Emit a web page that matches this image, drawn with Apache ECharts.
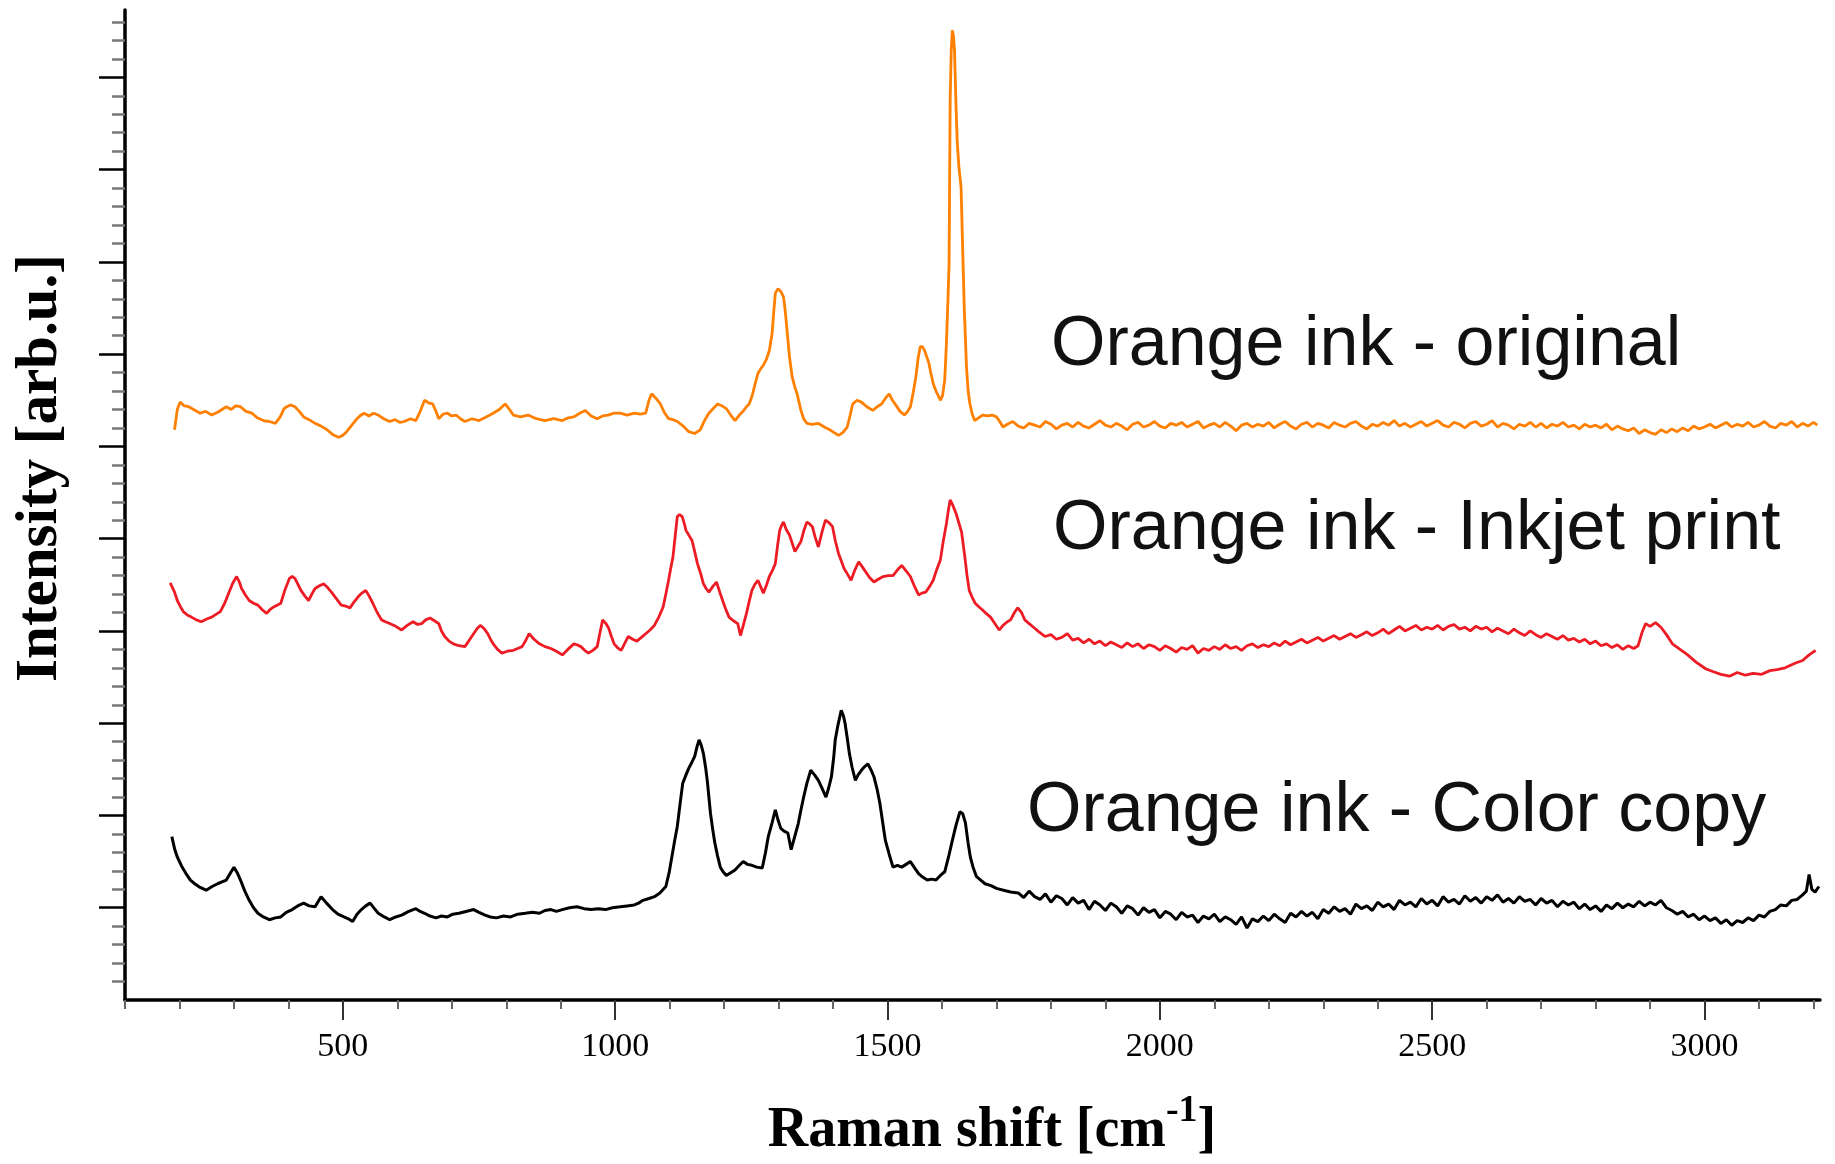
<!DOCTYPE html>
<html>
<head>
<meta charset="utf-8">
<script src="https://cdn.jsdelivr.net/npm/echarts@6/dist/echarts.min.js"></script>
<style>
  html, body { margin: 0; padding: 0; background: #ffffff; }
  #chart { width: 1835px; height: 1164px; }
</style>
</head>
<body>
<div id="chart"></div>
<script>
// Raman spectra of orange ink, stacked with vertical offsets.
// Each point: [Raman shift (cm^-1), intensity (arb.u.)]
const originalSpectrum = [
  [191,6.18],[196,6.40],[201,6.48],[209,6.44],[217,6.43],[226,6.40],[238,6.36],[248,6.38],[259,6.34],[270,6.37],
  [278,6.40],[286,6.43],[295,6.40],[303,6.44],[312,6.43],[322,6.38],[333,6.36],[343,6.31],[354,6.28],[365,6.27],
  [376,6.25],[385,6.32],[392,6.41],[397,6.43],[404,6.45],[412,6.43],[420,6.38],[428,6.32],[438,6.29],[449,6.25],
  [460,6.22],[471,6.18],[481,6.13],[492,6.10],[500,6.12],[507,6.16],[515,6.22],[523,6.28],[531,6.33],[539,6.36],
  [548,6.33],[556,6.36],[565,6.34],[575,6.30],[586,6.27],[596,6.29],[605,6.26],[613,6.27],[624,6.30],[634,6.28],
  [642,6.38],[650,6.50],[658,6.47],[665,6.46],[671,6.38],[676,6.30],[684,6.35],[692,6.36],[700,6.33],[708,6.34],
  [716,6.30],[724,6.27],[737,6.30],[750,6.28],[763,6.32],[776,6.36],[787,6.40],[798,6.46],[806,6.40],[813,6.34],
  [826,6.32],[840,6.34],[855,6.30],[871,6.28],[887,6.30],[903,6.28],[914,6.31],[924,6.32],[935,6.36],[945,6.39],
  [956,6.33],[967,6.30],[977,6.33],[987,6.34],[998,6.36],[1009,6.36],[1022,6.34],[1035,6.36],[1046,6.35],[1056,6.36],
  [1062,6.50],[1067,6.57],[1075,6.52],[1083,6.46],[1090,6.37],[1098,6.30],[1106,6.29],[1114,6.27],[1125,6.22],[1135,6.16],
  [1146,6.14],[1156,6.18],[1164,6.28],[1172,6.36],[1180,6.41],[1188,6.46],[1196,6.44],[1204,6.41],[1212,6.34],[1220,6.28],
  [1228,6.34],[1236,6.39],[1241,6.43],[1246,6.46],[1252,6.56],[1257,6.68],[1262,6.79],[1267,6.84],[1272,6.88],[1278,6.95],
  [1283,7.04],[1288,7.22],[1291,7.45],[1294,7.66],[1299,7.71],[1304,7.68],[1309,7.62],[1312,7.48],[1315,7.29],[1320,6.97],
  [1325,6.75],[1330,6.64],[1334,6.57],[1341,6.39],[1346,6.30],[1352,6.25],[1362,6.24],[1373,6.25],[1384,6.21],[1394,6.18],
  [1402,6.15],[1410,6.12],[1418,6.15],[1426,6.21],[1431,6.33],[1436,6.46],[1444,6.50],[1452,6.48],[1462,6.43],[1473,6.39],
  [1481,6.43],[1489,6.46],[1496,6.52],[1503,6.57],[1509,6.50],[1515,6.45],[1523,6.38],[1531,6.34],[1537,6.38],[1542,6.43],
  [1547,6.58],[1552,6.75],[1556,6.95],[1560,7.08],[1564,7.08],[1568,7.04],[1572,6.97],[1576,6.90],[1580,6.78],[1584,6.68],
  [1589,6.60],[1594,6.54],[1597,6.50],[1601,6.55],[1605,6.72],[1608,7.10],[1611,7.60],[1613,7.98],[1615,9.75],[1617,10.30],
  [1619,10.51],[1621,10.45],[1623,10.29],[1626,9.64],[1628,9.30],[1631,9.03],[1635,8.81],[1638,8.13],[1641,7.48],[1645,6.86],
  [1648,6.60],[1651,6.47],[1655,6.36],[1660,6.28],[1667,6.31],[1675,6.34],[1683,6.33],[1692,6.34],[1700,6.32],[1706,6.27],
  [1712,6.21],[1720,6.24],[1730,6.27],[1740,6.22],[1750,6.20],[1760,6.25],[1770,6.23],[1780,6.21],[1790,6.27],[1800,6.24],
  [1810,6.19],[1820,6.23],[1830,6.25],[1840,6.21],[1850,6.26],[1860,6.22],[1870,6.20],[1880,6.24],[1890,6.28],[1900,6.23],
  [1910,6.21],[1920,6.25],[1930,6.22],[1940,6.18],[1950,6.24],[1960,6.26],[1970,6.21],[1980,6.23],[1990,6.27],[2000,6.22],
  [2010,6.20],[2020,6.25],[2030,6.23],[2040,6.26],[2050,6.21],[2060,6.24],[2070,6.27],[2080,6.20],[2090,6.23],[2100,6.25],
  [2110,6.21],[2120,6.26],[2130,6.22],[2140,6.17],[2150,6.23],[2160,6.25],[2170,6.21],[2180,6.24],[2190,6.22],[2200,6.26],
  [2210,6.20],[2220,6.24],[2230,6.27],[2240,6.22],[2250,6.19],[2260,6.24],[2270,6.26],[2280,6.21],[2290,6.25],[2300,6.23],
  [2310,6.20],[2320,6.26],[2330,6.23],[2340,6.21],[2350,6.25],[2360,6.27],[2370,6.22],[2380,6.19],[2390,6.24],[2400,6.22],
  [2410,6.26],[2420,6.23],[2430,6.28],[2440,6.22],[2450,6.25],[2460,6.21],[2470,6.24],[2480,6.27],[2490,6.22],[2500,6.25],
  [2510,6.28],[2520,6.23],[2530,6.21],[2540,6.26],[2550,6.24],[2560,6.20],[2570,6.25],[2580,6.27],[2590,6.22],[2600,6.24],
  [2610,6.28],[2620,6.21],[2630,6.25],[2640,6.23],[2650,6.19],[2660,6.24],[2670,6.22],[2680,6.26],[2690,6.21],[2700,6.25],
  [2710,6.20],[2720,6.24],[2730,6.22],[2740,6.26],[2750,6.21],[2760,6.23],[2770,6.19],[2780,6.24],[2790,6.21],[2800,6.23],
  [2810,6.20],[2820,6.24],[2830,6.18],[2840,6.22],[2850,6.19],[2860,6.17],[2870,6.20],[2880,6.14],[2890,6.18],[2900,6.15],
  [2910,6.13],[2920,6.18],[2930,6.15],[2940,6.19],[2950,6.16],[2960,6.20],[2970,6.17],[2980,6.22],[2990,6.19],[3000,6.21],
  [3010,6.24],[3020,6.20],[3030,6.23],[3040,6.26],[3050,6.21],[3060,6.24],[3070,6.22],[3080,6.26],[3090,6.21],[3100,6.23],
  [3110,6.27],[3120,6.22],[3130,6.20],[3140,6.25],[3150,6.23],[3160,6.27],[3170,6.21],[3180,6.25],[3190,6.22],[3200,6.26],
  [3207,6.23]
];

const inkjetSpectrum = [
  [183,4.52],[191,4.42],[196,4.33],[202,4.26],[207,4.21],[215,4.17],[222,4.15],[231,4.12],[240,4.10],[250,4.13],
  [259,4.15],[267,4.18],[275,4.21],[283,4.30],[291,4.42],[298,4.52],[305,4.59],[310,4.53],[314,4.46],[321,4.39],
  [328,4.33],[336,4.30],[344,4.28],[352,4.23],[360,4.19],[366,4.23],[373,4.26],[380,4.28],[386,4.30],[394,4.45],
  [402,4.57],[407,4.59],[412,4.57],[418,4.50],[423,4.44],[430,4.38],[437,4.33],[443,4.40],[449,4.46],[457,4.49],
  [465,4.51],[472,4.47],[479,4.42],[488,4.35],[497,4.28],[505,4.27],[513,4.25],[520,4.31],[528,4.37],[535,4.41],
  [542,4.44],[548,4.38],[555,4.30],[563,4.20],[571,4.12],[578,4.10],[586,4.08],[597,4.05],[608,4.01],[618,4.06],
  [629,4.10],[637,4.07],[645,4.08],[652,4.12],[660,4.14],[668,4.11],[676,4.08],[681,4.00],[687,3.94],[695,3.89],
  [703,3.86],[713,3.84],[724,3.83],[732,3.90],[740,3.97],[747,4.03],[753,4.06],[760,4.02],[766,3.97],[771,3.91],
  [776,3.86],[784,3.80],[792,3.76],[802,3.78],[813,3.79],[821,3.81],[829,3.83],[836,3.90],[842,3.97],[851,3.91],
  [861,3.86],[871,3.83],[882,3.81],[892,3.78],[903,3.74],[913,3.80],[924,3.86],[930,3.85],[937,3.83],[944,3.79],
  [951,3.76],[959,3.79],[967,3.83],[972,3.98],[977,4.12],[983,4.08],[988,4.03],[993,3.94],[998,3.86],[1004,3.82],
  [1011,3.79],[1017,3.86],[1024,3.94],[1032,3.91],[1040,3.89],[1048,3.93],[1056,3.97],[1064,4.01],[1072,4.06],[1080,4.15],
  [1088,4.26],[1093,4.40],[1098,4.55],[1102,4.68],[1106,4.80],[1110,5.02],[1114,5.24],[1118,5.26],[1123,5.24],[1127,5.16],
  [1130,5.09],[1136,5.03],[1141,4.98],[1146,4.86],[1151,4.73],[1157,4.62],[1162,4.51],[1167,4.46],[1172,4.42],[1179,4.48],
  [1186,4.53],[1192,4.42],[1199,4.30],[1204,4.22],[1209,4.15],[1217,4.11],[1225,4.08],[1230,3.95],[1236,4.08],[1241,4.19],
  [1246,4.32],[1251,4.44],[1256,4.50],[1262,4.55],[1267,4.48],[1272,4.41],[1278,4.50],[1283,4.59],[1289,4.66],[1294,4.73],
  [1298,4.92],[1302,5.09],[1306,5.15],[1309,5.18],[1314,5.10],[1320,5.04],[1325,4.95],[1330,4.86],[1336,4.92],[1341,4.97],
  [1347,5.10],[1352,5.18],[1357,5.16],[1362,5.13],[1367,5.02],[1373,4.91],[1380,5.08],[1386,5.20],[1393,5.17],[1399,5.13],
  [1404,4.98],[1410,4.84],[1415,4.76],[1420,4.68],[1427,4.61],[1433,4.55],[1440,4.66],[1447,4.75],[1453,4.70],[1460,4.64],
  [1467,4.58],[1475,4.53],[1483,4.56],[1492,4.59],[1501,4.60],[1510,4.60],[1518,4.66],[1526,4.71],[1534,4.65],[1542,4.59],
  [1549,4.49],[1557,4.39],[1563,4.41],[1570,4.42],[1577,4.48],[1584,4.55],[1590,4.66],[1597,4.77],[1602,4.96],[1608,5.16],
  [1612,5.32],[1615,5.42],[1620,5.36],[1626,5.27],[1631,5.17],[1636,5.07],[1642,4.80],[1646,4.60],[1650,4.44],[1655,4.37],
  [1661,4.30],[1668,4.26],[1674,4.23],[1681,4.19],[1689,4.15],[1697,4.08],[1705,4.01],[1712,4.06],[1720,4.10],[1726,4.12],
  [1733,4.20],[1739,4.25],[1746,4.20],[1752,4.12],[1760,4.08],[1768,4.04],[1778,3.99],[1789,3.94],[1800,3.96],[1810,3.91],
  [1820,3.93],[1830,3.97],[1840,3.90],[1850,3.92],[1860,3.87],[1870,3.91],[1880,3.86],[1890,3.89],[1900,3.84],[1910,3.88],
  [1920,3.85],[1930,3.82],[1940,3.87],[1950,3.83],[1960,3.86],[1970,3.81],[1980,3.85],[1990,3.83],[2000,3.79],[2010,3.84],
  [2020,3.81],[2030,3.77],[2040,3.82],[2050,3.80],[2060,3.84],[2070,3.76],[2080,3.81],[2090,3.79],[2100,3.83],[2110,3.80],
  [2120,3.85],[2130,3.81],[2140,3.83],[2150,3.79],[2160,3.84],[2170,3.86],[2180,3.82],[2190,3.85],[2200,3.83],[2210,3.87],
  [2220,3.84],[2230,3.89],[2240,3.85],[2250,3.88],[2260,3.91],[2270,3.87],[2280,3.90],[2290,3.93],[2300,3.89],[2310,3.92],
  [2320,3.95],[2330,3.91],[2340,3.94],[2350,3.97],[2360,3.93],[2370,3.96],[2380,3.99],[2390,3.95],[2400,3.98],[2410,4.02],
  [2420,3.97],[2430,4.01],[2440,4.05],[2450,4.00],[2460,4.03],[2470,4.06],[2480,4.01],[2490,4.04],[2500,4.02],[2510,4.06],
  [2520,4.01],[2530,4.05],[2540,4.07],[2550,4.02],[2560,4.04],[2570,4.00],[2580,4.05],[2590,4.02],[2600,4.04],[2610,3.99],
  [2620,4.03],[2630,4.00],[2640,3.97],[2650,4.02],[2660,3.98],[2670,3.95],[2680,4.00],[2690,3.96],[2700,3.93],[2710,3.97],
  [2720,3.94],[2730,3.91],[2740,3.95],[2750,3.90],[2760,3.92],[2770,3.88],[2780,3.91],[2790,3.86],[2800,3.89],[2810,3.84],
  [2820,3.86],[2830,3.82],[2840,3.85],[2850,3.80],[2860,3.84],[2870,3.81],[2878,3.84],[2885,3.98],[2892,4.08],[2900,4.05],
  [2910,4.09],[2920,4.04],[2930,3.96],[2941,3.86],[2955,3.80],[2969,3.74],[2985,3.66],[3002,3.59],[3015,3.56],[3030,3.53],
  [3046,3.51],[3060,3.55],[3075,3.52],[3089,3.54],[3105,3.53],[3120,3.57],[3133,3.58],[3148,3.60],[3166,3.65],[3180,3.68],
  [3192,3.74],[3204,3.79]
];

const colorCopySpectrum = [
  [186,1.77],[191,1.64],[196,1.55],[204,1.45],[212,1.37],[220,1.30],[228,1.26],[238,1.22],[249,1.19],[260,1.23],
  [270,1.26],[278,1.28],[286,1.30],[293,1.37],[300,1.44],[306,1.38],[312,1.30],[320,1.18],[328,1.08],[336,1.00],
  [344,0.94],[354,0.90],[365,0.87],[376,0.89],[386,0.90],[396,0.95],[407,0.98],[417,1.02],[428,1.05],[438,1.02],
  [449,1.01],[455,1.07],[460,1.12],[470,1.05],[481,0.98],[491,0.93],[502,0.90],[510,0.88],[518,0.85],[526,0.93],
  [534,0.98],[542,1.02],[550,1.05],[558,0.99],[565,0.94],[576,0.90],[586,0.87],[597,0.90],[608,0.92],[621,0.96],
  [634,0.99],[642,0.96],[650,0.94],[660,0.91],[671,0.89],[681,0.91],[692,0.90],[702,0.93],[713,0.94],[726,0.96],
  [740,0.98],[750,0.95],[761,0.92],[771,0.90],[782,0.89],[795,0.91],[808,0.90],[821,0.93],[835,0.94],[848,0.95],
  [861,0.94],[871,0.97],[882,0.98],[892,0.96],[903,0.98],[916,1.00],[930,1.01],[943,0.99],[956,0.98],[969,0.99],
  [982,0.98],[995,1.00],[1009,1.01],[1022,1.02],[1035,1.03],[1043,1.05],[1051,1.08],[1062,1.10],[1072,1.12],[1082,1.16],
  [1093,1.23],[1099,1.38],[1104,1.55],[1109,1.72],[1114,1.88],[1119,2.12],[1124,2.35],[1130,2.44],[1135,2.51],[1141,2.58],
  [1146,2.64],[1150,2.74],[1154,2.82],[1158,2.76],[1162,2.67],[1166,2.52],[1169,2.38],[1172,2.20],[1175,2.02],[1179,1.85],
  [1183,1.70],[1188,1.56],[1193,1.44],[1198,1.39],[1204,1.35],[1212,1.38],[1220,1.41],[1228,1.46],[1235,1.50],[1243,1.47],
  [1251,1.46],[1260,1.44],[1270,1.43],[1276,1.60],[1281,1.77],[1288,1.92],[1294,2.06],[1299,1.95],[1304,1.86],[1310,1.83],
  [1317,1.81],[1323,1.63],[1330,1.78],[1336,1.91],[1341,2.06],[1346,2.20],[1352,2.35],[1359,2.49],[1366,2.44],[1373,2.38],
  [1380,2.29],[1387,2.20],[1392,2.30],[1397,2.42],[1401,2.62],[1404,2.82],[1409,2.98],[1415,3.14],[1419,3.08],[1422,3.00],
  [1426,2.84],[1430,2.67],[1435,2.52],[1441,2.38],[1446,2.44],[1452,2.49],[1458,2.53],[1464,2.56],[1470,2.49],[1475,2.42],
  [1481,2.28],[1486,2.13],[1491,1.93],[1496,1.73],[1503,1.58],[1510,1.44],[1518,1.46],[1526,1.44],[1534,1.47],[1542,1.50],
  [1550,1.43],[1557,1.37],[1565,1.33],[1573,1.30],[1581,1.31],[1589,1.30],[1597,1.35],[1605,1.39],[1612,1.55],[1619,1.73],
  [1626,1.90],[1633,2.04],[1638,2.02],[1643,1.92],[1648,1.70],[1652,1.55],[1657,1.44],[1663,1.34],[1671,1.30],[1679,1.26],
  [1690,1.24],[1700,1.21],[1713,1.19],[1726,1.17],[1740,1.16],[1750,1.11],[1760,1.18],[1770,1.12],[1780,1.09],[1790,1.15],
  [1800,1.06],[1810,1.13],[1820,1.10],[1830,1.03],[1840,1.11],[1850,1.05],[1860,1.08],[1870,0.98],[1880,1.07],[1890,1.03],
  [1900,0.97],[1910,1.05],[1920,1.01],[1930,0.94],[1940,1.02],[1950,0.99],[1960,0.92],[1970,1.00],[1980,0.95],[1990,0.98],
  [2000,0.89],[2010,0.96],[2020,0.93],[2030,0.87],[2040,0.95],[2050,0.90],[2060,0.92],[2070,0.84],[2080,0.91],[2090,0.88],
  [2100,0.93],[2110,0.85],[2120,0.90],[2130,0.87],[2140,0.82],[2150,0.90],[2160,0.78],[2170,0.88],[2180,0.85],[2190,0.91],
  [2200,0.86],[2210,0.93],[2220,0.88],[2230,0.84],[2240,0.94],[2250,0.90],[2260,0.96],[2270,0.91],[2280,0.95],[2290,0.88],
  [2300,0.98],[2310,0.94],[2320,1.01],[2330,0.96],[2340,0.99],[2350,0.93],[2360,1.04],[2370,0.99],[2380,1.02],[2390,0.97],
  [2400,1.06],[2410,1.01],[2420,1.04],[2430,0.98],[2440,1.08],[2450,1.03],[2460,1.06],[2470,1.01],[2480,1.10],[2490,1.04],
  [2500,1.08],[2510,1.02],[2520,1.12],[2530,1.06],[2540,1.09],[2550,1.04],[2560,1.13],[2570,1.07],[2580,1.11],[2590,1.05],
  [2600,1.12],[2610,1.08],[2620,1.14],[2630,1.06],[2640,1.10],[2650,1.05],[2660,1.12],[2670,1.07],[2680,1.09],[2690,1.03],
  [2700,1.10],[2710,1.05],[2720,1.08],[2730,1.01],[2740,1.07],[2750,1.03],[2760,1.06],[2770,0.99],[2780,1.04],[2790,0.98],
  [2800,1.02],[2810,0.96],[2820,1.03],[2830,0.99],[2840,1.05],[2850,1.00],[2860,1.04],[2870,1.01],[2880,1.07],[2890,1.02],
  [2900,1.06],[2910,1.03],[2920,1.08],[2930,1.00],[2940,0.97],[2950,0.93],[2960,0.96],[2970,0.90],[2980,0.93],[2990,0.87],
  [3000,0.91],[3010,0.86],[3020,0.89],[3030,0.83],[3040,0.87],[3050,0.81],[3060,0.86],[3070,0.84],[3080,0.89],[3090,0.86],
  [3100,0.92],[3110,0.90],[3120,0.96],[3130,0.98],[3140,1.03],[3150,1.02],[3160,1.08],[3170,1.09],[3180,1.14],[3187,1.18],
  [3192,1.36],[3197,1.20],[3203,1.17],[3210,1.23]
];

// Axis ticks
const shiftMajorTicks = [500, 1000, 1500, 2000, 2500, 3000];
const shiftMinorTicks = [100, 200, 300, 400, 600, 700, 800, 900, 1100, 1200, 1300, 1400, 1600, 1700, 1800, 1900,
  2100, 2200, 2300, 2400, 2600, 2700, 2800, 2900, 3100, 3200];
const intensityMajorTicks = [1, 2, 3, 4, 5, 6, 7, 8, 9, 10];
const intensityMinorTicks = [];
for (let i = 1; i <= 53; i++) { if (i % 5 !== 0) intensityMinorTicks.push(i / 5); }

const traceNames = ['Orange ink - original', 'Orange ink - Inkjet print', 'Orange ink - Color copy'];
const traceColors = ['#ff8000', '#ed1c24', '#000000'];

const SHIFT_MIN = 100, SHIFT_MAX = 3212;
const INTENSITY_MIN = 0, INTENSITY_MAX = 10.73;

const chart = echarts.init(document.getElementById('chart'), null, { renderer: 'canvas' });

const serifFont = '"Liberation Serif", "Times New Roman", serif';
const sansFont = '"Liberation Sans", Arial, sans-serif';

function shiftAxis(ticks, len, showLine, showLabels) {
  return {
    type: 'value', position: 'bottom', min: SHIFT_MIN, max: SHIFT_MAX,
    axisLine: { show: showLine, onZero: false, lineStyle: { color: '#000', width: 3.5 } },
    axisTick: { show: true, customValues: ticks, length: len, lineStyle: { color: showLine ? '#333' : '#666', width: 2 } },
    axisLabel: showLabels ? {
      show: true, customValues: ticks, margin: 30,
      formatter: function (v) { return String(v); },
      fontFamily: serifFont, fontSize: 34, color: '#000'
    } : { show: false },
    splitLine: { show: false }
  };
}

function intensityAxis(ticks, len, showLine) {
  return {
    type: 'value', position: 'left', min: INTENSITY_MIN, max: INTENSITY_MAX,
    axisLine: { show: showLine, onZero: false, lineStyle: { color: '#000', width: 3.5 } },
    axisTick: { show: true, customValues: ticks, length: len, lineStyle: { color: showLine ? '#000' : '#777', width: 2.5 } },
    axisLabel: { show: false },
    splitLine: { show: false }
  };
}

function spectrumSeries(name, data, color, width, z) {
  return {
    name: name, type: 'line', data: data,
    xAxisIndex: 0, yAxisIndex: 0,
    showSymbol: false, symbol: 'none', smooth: false,
    lineStyle: { color: color, width: width },
    z: z, silent: true
  };
}

function labelStyle(text) {
  return {
    text: text, font: '70px ' + sansFont, fill: '#111',
    align: 'left', verticalAlign: 'middle', textAlign: 'left', textVerticalAlign: 'middle'
  };
}

chart.setOption({
  animation: false,
  backgroundColor: '#ffffff',
  grid: { left: 125, right: 15, top: 10, bottom: 164, containLabel: false },
  xAxis: [
    shiftAxis(shiftMajorTicks, 20, true, true),
    shiftAxis(shiftMinorTicks, 9, false, false)
  ],
  yAxis: [
    intensityAxis(intensityMajorTicks, 26, true),
    intensityAxis(intensityMinorTicks, 13, false)
  ],
  series: [
    spectrumSeries(traceNames[2], colorCopySpectrum, traceColors[2], 3, 3),
    spectrumSeries(traceNames[1], inkjetSpectrum, traceColors[1], 2.8, 4),
    spectrumSeries(traceNames[0], originalSpectrum, traceColors[0], 2.8, 5)
  ],
  graphic: [
    { type: 'text', x: 1051, y: 346, style: labelStyle(traceNames[0]) },
    { type: 'text', x: 1053, y: 530, style: labelStyle(traceNames[1]) },
    { type: 'text', x: 1027, y: 812, style: labelStyle(traceNames[2]) },
    {
      type: 'text', x: 41, y: 468, rotation: Math.PI / 2,
      style: {
        text: 'Intensity [arb.u.]', font: 'bold 59px ' + serifFont, fill: '#000',
        align: 'center', verticalAlign: 'middle', textAlign: 'center', textVerticalAlign: 'middle'
      }
    },
    {
      type: 'text', x: 992, y: 1132,
      style: {
        text: '{a|Raman shift [cm}{s|-1}{a|]}',
        fill: '#000',
        align: 'center', verticalAlign: 'middle', textAlign: 'center', textVerticalAlign: 'middle',
        rich: {
          a: { fontFamily: serifFont, fontWeight: 'bold', fontSize: 56, lineHeight: 80, fill: '#000' },
          s: { fontFamily: serifFont, fontWeight: 'bold', fontSize: 38, lineHeight: 30, verticalAlign: 'top', fill: '#000' }
        }
      }
    }
  ]
});
</script>
</body>
</html>
